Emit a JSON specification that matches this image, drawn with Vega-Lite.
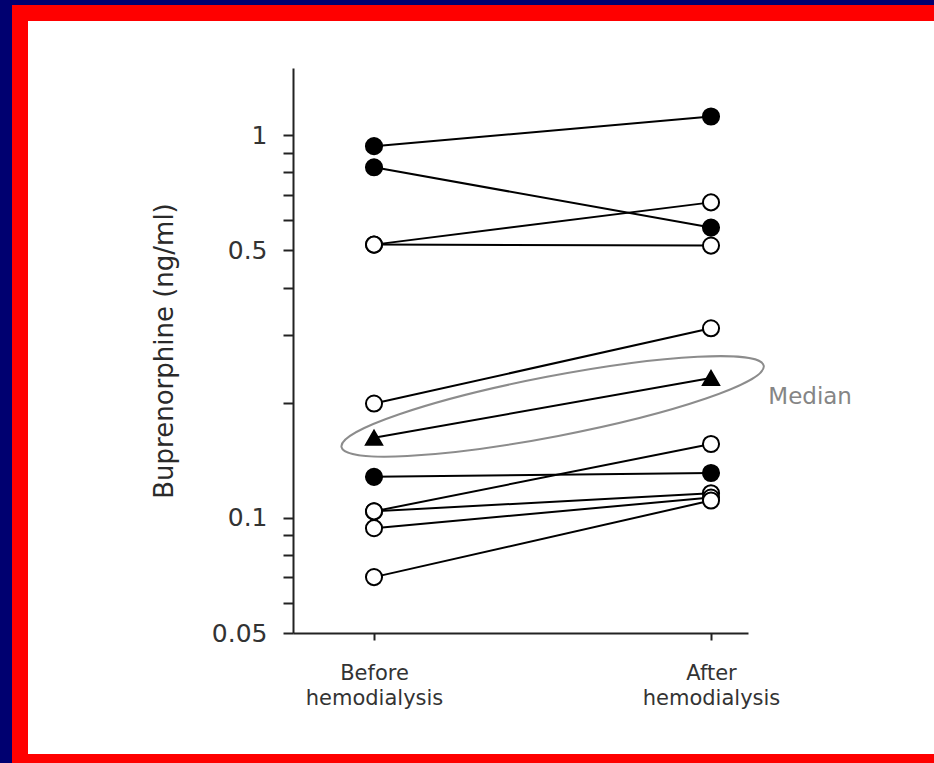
{
  "$schema": "https://vega.github.io/schema/vega-lite/v6.json",
  "width": 922,
  "height": 749,
  "autosize": {"type": "none"},
  "padding": {"left": 20, "top": 13, "right": -8, "bottom": 1},
  "background": "#000070",
  "config": {
    "view": {"fill": "white", "stroke": "#ff0000", "strokeWidth": 16},
    "font": "DejaVu Sans"
  },
  "datasets": {
    "pairs": [
      {"subject": "s1", "phase": 1, "value": 0.937, "kind": "filled"},
      {"subject": "s1", "phase": 2, "value": 1.12, "kind": "filled"},
      {"subject": "s2", "phase": 1, "value": 0.825, "kind": "filled"},
      {"subject": "s2", "phase": 2, "value": 0.574, "kind": "filled"},
      {"subject": "s3", "phase": 1, "value": 0.518, "kind": "open"},
      {"subject": "s3", "phase": 2, "value": 0.668, "kind": "open"},
      {"subject": "s4", "phase": 1, "value": 0.518, "kind": "open"},
      {"subject": "s4", "phase": 2, "value": 0.515, "kind": "open"},
      {"subject": "s5", "phase": 1, "value": 0.199, "kind": "open"},
      {"subject": "s5", "phase": 2, "value": 0.313, "kind": "open"},
      {"subject": "s6", "phase": 1, "value": 0.128, "kind": "filled"},
      {"subject": "s6", "phase": 2, "value": 0.131, "kind": "filled"},
      {"subject": "s7", "phase": 1, "value": 0.104, "kind": "open"},
      {"subject": "s7", "phase": 2, "value": 0.156, "kind": "open"},
      {"subject": "s8", "phase": 1, "value": 0.104, "kind": "open"},
      {"subject": "s8", "phase": 2, "value": 0.116, "kind": "open"},
      {"subject": "s9", "phase": 1, "value": 0.094, "kind": "open"},
      {"subject": "s9", "phase": 2, "value": 0.113, "kind": "open"},
      {"subject": "s10", "phase": 1, "value": 0.070, "kind": "open"},
      {"subject": "s10", "phase": 2, "value": 0.111, "kind": "open"},
      {"subject": "median", "phase": 1, "value": 0.162, "kind": "median"},
      {"subject": "median", "phase": 2, "value": 0.232, "kind": "median"}
    ],
    "ellipse": [
      {"phase": 1.53, "value": 0.1956}
    ],
    "labels": [
      {"phase": 2.17, "value": 0.2065, "text": "Median"}
    ]
  },
  "layer": [
    {
      "data": {"name": "pairs"},
      "mark": {"type": "line", "color": "black", "strokeWidth": 2},
      "encoding": {
        "x": {
          "field": "phase",
          "type": "quantitative",
          "scale": {"domain": [0.7596, 2.1098], "range": [273, 728], "nice": false, "zero": false},
          "axis": {
            "values": [1, 2],
            "title": null,
            "grid": false,
            "offset": -129,
            "domainColor": "#222",
            "domainWidth": 2,
            "tickColor": "#222",
            "tickWidth": 2,
            "tickSize": 7,
            "labelPadding": 22,
            "labelFontSize": 21,
            "labelColor": "#333",
            "labelLineHeight": 25,
            "labelExpr": "datum.value == 1 ? ['Before', 'hemodialysis'] : ['After', 'hemodialysis']"
          }
        },
        "y": {
          "field": "value",
          "type": "quantitative",
          "scale": {"type": "log", "domain": [0.05, 1.5], "range": [620, 55], "nice": false},
          "axis": {
            "title": "Buprenorphine (ng/ml)",
            "titleFontSize": 26,
            "titleFontWeight": "normal",
            "titleColor": "#2a2a2a",
            "titlePadding": 34,
            "grid": false,
            "offset": -273,
            "values": [0.05, 0.06, 0.07, 0.08, 0.09, 0.1, 0.2, 0.3, 0.4, 0.5, 0.6, 0.7, 0.8, 0.9, 1],
            "labelExpr": "datum.value == 1 ? '1' : datum.value == 0.5 ? '0.5' : datum.value == 0.1 ? '0.1' : datum.value == 0.05 ? '0.05' : ''",
            "domainColor": "#222",
            "domainWidth": 2,
            "tickColor": "#222",
            "tickWidth": 2,
            "tickSize": 10,
            "labelPadding": 16,
            "labelFontSize": 25,
            "labelColor": "#333"
          }
        },
        "detail": {"field": "subject"}
      }
    },
    {
      "data": {"name": "pairs"},
      "mark": {"type": "point", "filled": false, "stroke": "black", "strokeWidth": 2, "opacity": 1},
      "encoding": {
        "x": {"field": "phase", "type": "quantitative"},
        "y": {"field": "value", "type": "quantitative"},
        "shape": {
          "field": "kind",
          "type": "nominal",
          "scale": {"domain": ["filled", "open", "median"], "range": ["circle", "circle", "triangle-up"]},
          "legend": null
        },
        "fill": {
          "field": "kind",
          "type": "nominal",
          "scale": {"domain": ["filled", "open", "median"], "range": ["black", "white", "black"]},
          "legend": null
        },
        "size": {
          "field": "kind",
          "type": "nominal",
          "scale": {"domain": ["filled", "open", "median"], "range": [260, 260, 480]},
          "legend": null
        }
      }
    },
    {
      "data": {"name": "ellipse"},
      "mark": {
        "type": "point",
        "shape": "M -1 0 C -1 -0.0773 -0.5523 -0.14 0 -0.14 C 0.5523 -0.14 1 -0.0773 1 0 C 1 0.0773 0.5523 0.14 0 0.14 C -0.5523 0.14 -1 0.0773 -1 0 Z",
        "size": 184900,
        "angle": -10.9,
        "filled": false,
        "stroke": "#8c8c8c",
        "strokeWidth": 2,
        "opacity": 1
      },
      "encoding": {
        "x": {"field": "phase", "type": "quantitative"},
        "y": {"field": "value", "type": "quantitative"}
      }
    },
    {
      "data": {"name": "labels"},
      "mark": {"type": "text", "align": "left", "baseline": "middle", "fontSize": 23, "color": "#858585"},
      "encoding": {
        "x": {"field": "phase", "type": "quantitative"},
        "y": {"field": "value", "type": "quantitative"},
        "text": {"field": "text"}
      }
    }
  ]
}
